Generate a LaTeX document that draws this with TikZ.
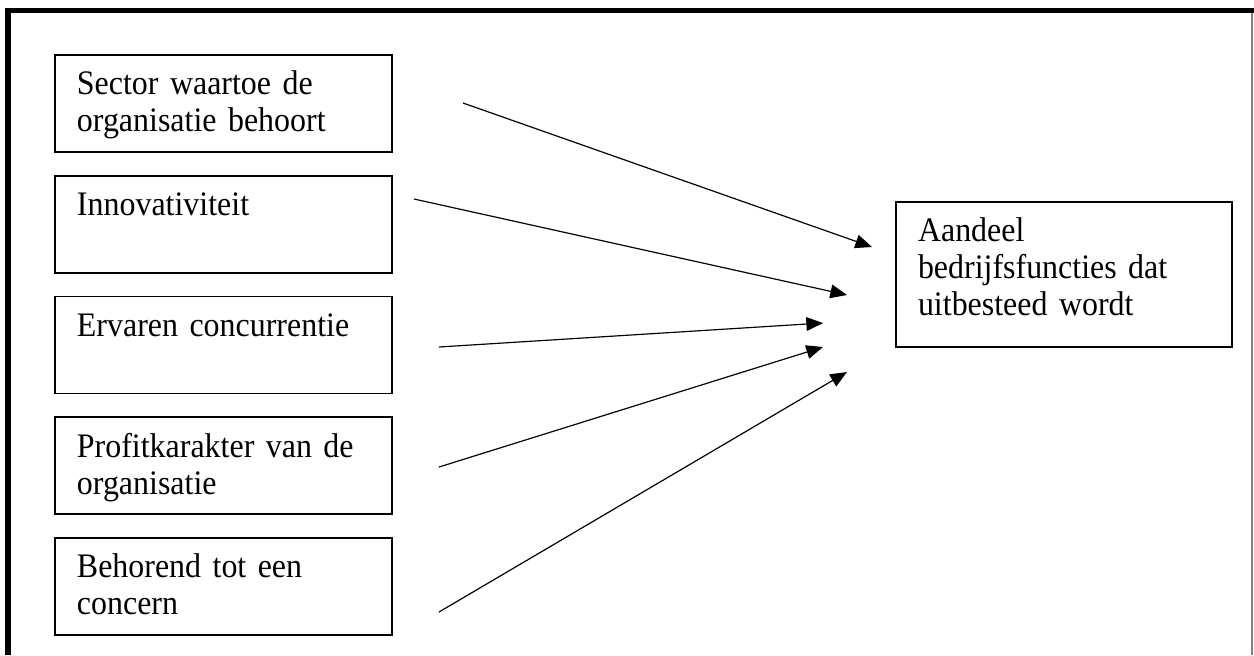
\documentclass[tikz,border=0pt]{standalone}
\usepackage{fontspec}
\setmainfont{Liberation Serif}[FakeStretch=0.93, WordSpace=0.85]
\usetikzlibrary{arrows.meta}

\begin{document}
\begin{tikzpicture}[
    x=0.3784pt, y=-0.3784pt,
    >={Triangle[length=6.3pt, width=5.2pt]},
    arr/.style={->, line width=0.45pt},
    fac/.style={draw, line width=0.6pt, minimum width=127.5pt, minimum height=36.7pt,
        text width=110.9pt, inner xsep=8.3pt, align=left,
        font=\fontsize{13}{14}\selectfont,
        execute at begin node=\rule{0pt}{10.5pt},
        execute at end node=\rule[-3pt]{0pt}{3pt}},
    res/.style={fac, minimum width=127.1pt, minimum height=54.9pt, text width=110.5pt,
        execute at end node=\rule[-7.2pt]{0pt}{7.2pt}},
]
\useasboundingbox (0,0) rectangle (1254,655);
% === Frame ===
\draw[line width=2.4pt] (8.3,655) -- (8.3,10.8);
\draw[line width=1.9pt] (5,10.8) -- (1254,10.8);
\draw[gray, line width=0.4pt] (1252,13) -- (1252,655);
% === Factors (left column) ===
\foreach \i/\t in {1/{Sector waartoe de\\organisatie behoort},
                   2/{Innovativiteit\\},
                   3/{Ervaren concurrentie\\},
                   4/{Profitkarakter van de\\organisatie},
                   5/{Behorend tot een\\concern}} {
    \node[fac] (f\i) at (223.5, 103.5+\i*120.75-120.75) {\t};
}
% === Outcome ===
\node[res] (out) at (1064, 274.5) {Aandeel\\bedrijfsfuncties dat\\uitbesteed wordt};
% === Arrows ===
\foreach \i/\sx/\sy/\ex/\ey in {1/463/103/872/247, 2/414/199/847/295, 3/439/347/823/323,
                                4/439/467/823/347, 5/439/612/847/372} {
    \coordinate (s\i) at (\sx,\sy);
    \coordinate (e\i) at (\ex,\ey);
    \draw[arr] (s\i) -- (e\i);
}
\end{tikzpicture}
\end{document}
